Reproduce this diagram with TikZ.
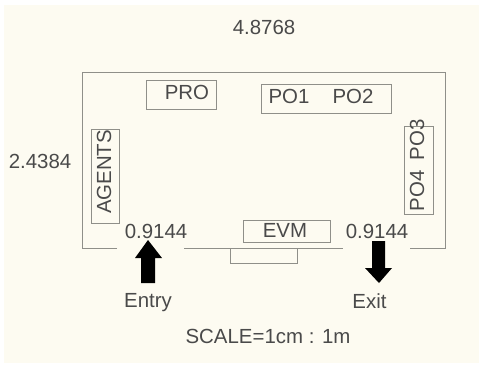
\documentclass[tikz,border=0pt]{standalone}
\usepackage{fontspec}
\setmainfont{Liberation Sans}
\definecolor{paper}{HTML}{FDFBF1}
\definecolor{wall}{HTML}{8F8F89}
\definecolor{ink}{HTML}{4A4A4A}
\tikzset{
  wallline/.style={draw=wall,line width=1.1bp},
  lbl/.style={text=ink,font=\fontsize{20.5}{20.5}\selectfont,inner sep=0pt},
  box/.style={draw=wall,line width=1.1bp,inner sep=0pt,anchor=north west},
  bigarrow/.style={fill=black,draw=none}
}
\begin{document}
\begin{tikzpicture}[x=1bp,y=-1bp]
\useasboundingbox (0,0) rectangle (479,365);
\fill[white] (0,0) rectangle (479,365);
\fill[paper] (4,5) rectangle (479,363);
% room
\draw[wallline] (117,248.5) -- (82.5,248.5) -- (82.5,72.5) -- (445.5,72.5) -- (445.5,248.5) -- (410,248.5);
\draw[wallline] (184,248.5) -- (343,248.5);
\draw[wallline] (230.5,248.5) -- (230.5,263.5) -- (297.5,263.5) -- (297.5,248.5);
% boxes
\node[box,minimum width=70bp,minimum height=29bp] (probox) at (145.5,79.5) {};
\node[box,minimum width=130bp,minimum height=29bp] (pobox) at (260.5,83.5) {};
\node[box,minimum width=29bp,minimum height=88bp] (porbox) at (403.5,125.5) {};
\node[box,minimum width=28bp,minimum height=94bp] (agbox) at (90.5,128.5) {};
\node[box,minimum width=87bp,minimum height=22bp] (evmbox) at (242.5,219.5) {};
% box labels
\node[lbl] (pro) at (187,92) {PRO};
\node[lbl] (po1) at (289,96) {PO1};
\node[lbl] (po2) at (353,96) {PO2};
\node[lbl,rotate=90] (po3) at (417,140) {PO3};
\node[lbl,rotate=90] (po4) at (417,191) {PO4};
\node[lbl,rotate=90] (agents) at (104,172) {AGENTS};
\node[lbl] (evm) at (285,230) {EVM};
% dimensions
\node[lbl] (w) at (264,27) {4.8768};
\node[lbl] (h) at (40,161) {2.4384};
\node[lbl] (d1) at (156,231) {0.9144};
\node[lbl] (d2) at (377,231) {0.9144};
% arrows
\fill[bigarrow] (148,240) -- (162,258) -- (155,258) -- (155,283) -- (141,283) -- (141,258) -- (135,258) -- cycle;
\fill[bigarrow] (379,283) -- (392,268) -- (385,268) -- (385,241) -- (372,241) -- (372,268) -- (365,268) -- cycle;
\node[lbl] (entry) at (148,303) {Entry};
\node[lbl] (exit) at (369.5,301) {Exit};
\node[lbl] (scale) at (268,336) {SCALE=1cm : 1m};
\end{tikzpicture}
\end{document}
